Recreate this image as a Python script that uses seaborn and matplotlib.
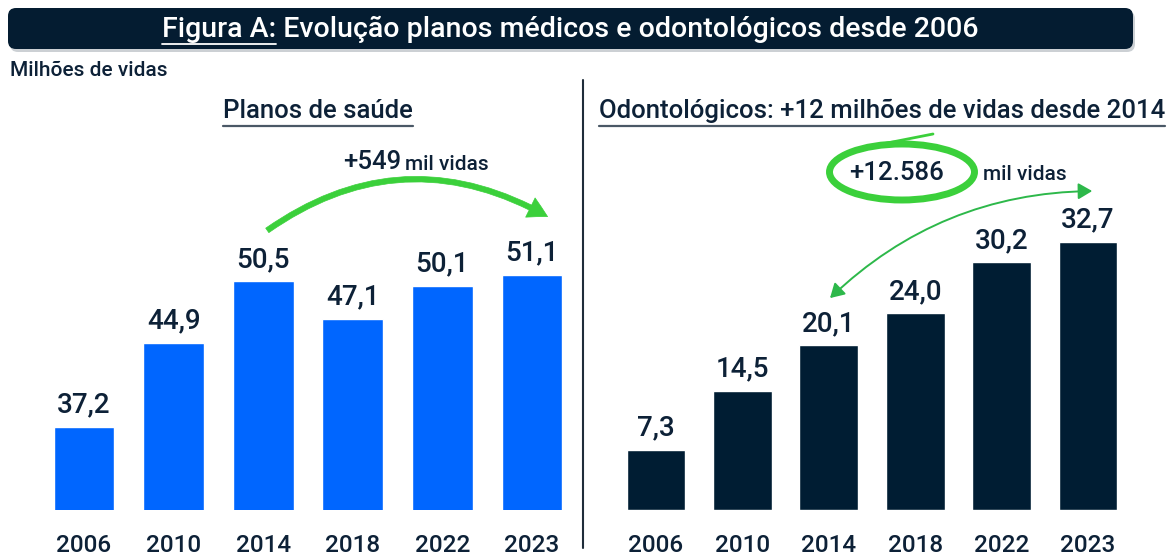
import matplotlib
matplotlib.use("Agg")
import matplotlib.pyplot as plt
import seaborn as sns
import pandas as pd
from matplotlib.patches import FancyBboxPatch, FancyArrowPatch, Ellipse
from matplotlib.lines import Line2D

# ---- data ----
years = ["2006", "2010", "2014", "2018", "2022", "2023"]
saude = [37.2, 44.9, 50.5, 47.1, 50.1, 51.1]
odonto = [7.3, 14.5, 20.1, 24.0, 30.2, 32.7]

title_a = "Figura A:"
title_b = " Evolução planos médicos e odontológicos desde 2006"
unit_label = "Milhões de vidas"
left_title = "Planos de saúde"
right_title = "Odontológicos: +12 milhões de vidas desde 2014"
left_delta = "+549"
right_delta = "+12.586"
delta_unit = "mil vidas"

BLUE = "#0066FF"
NAVY = "#001D33"
TXT = "#0D2137"
GREEN = "#3BD03B"

sns.set_theme(style="white")
plt.rcParams["font.family"] = ["Roboto", "DejaVu Sans"]
plt.rcParams["font.weight"] = "medium"

W, H = 1172, 557
fig = plt.figure(figsize=(W / 100, H / 100), dpi=100)

def fx(px):
    return px / W

def fy(py):
    return 1 - py / H

base_y = 510
top_y = 110

axL = fig.add_axes([fx(39.2), fy(base_y), fx(537.6), (base_y - top_y) / H])
axR = fig.add_axes([fx(612.8), fy(base_y), fx(518.4), (base_y - top_y) / H])

dfL = pd.DataFrame({"ano": years, "vidas": saude})
dfR = pd.DataFrame({"ano": years, "vidas": odonto})

sns.barplot(data=dfL, x="ano", y="vidas", ax=axL, color=BLUE, width=0.68,
            saturation=1, errorbar=None)
sns.barplot(data=dfR, x="ano", y="vidas", ax=axR, color=NAVY, width=0.68,
            saturation=1, errorbar=None)

axL.set_ylim(29.6, 29.6 + (base_y - top_y) / 10.94)
axR.set_ylim(0, (base_y - top_y) / 8.2)

for ax, vals in ((axL, saude), (axR, odonto)):
    ax.bar_label(ax.containers[0], labels=[f"{v:.1f}".replace(".", ",") for v in vals],
                 padding=6, fontsize=20, color=TXT)
    ax.set_xlabel("")
    ax.set_ylabel("")
    ax.set_yticks([])
    ax.tick_params(axis="x", length=0, pad=17, labelsize=17.5, labelcolor=TXT)
    for s in ax.spines.values():
        s.set_visible(False)
    ax.set_facecolor("none")
    ax.set_xlim(-0.5, 5.5)

# ---- overlay in pixel coordinates ----
ov = fig.add_axes([0, 0, 1, 1])
ov.set_xlim(0, W)
ov.set_ylim(H, 0)
ov.axis("off")
ov.set_facecolor("none")

# banner with soft shadow
ov.add_patch(FancyBboxPatch((10, 11), 1125, 41, boxstyle="round,pad=0,rounding_size=8",
                            fc="#9aa3ab", ec="none", alpha=0.5, zorder=1))
ov.add_patch(FancyBboxPatch((8, 8), 1125, 41, boxstyle="round,pad=0,rounding_size=8",
                            fc="#041C31", ec="none", zorder=2))

tfull = ov.text(570, 29, title_a + title_b, color="white", fontsize=20.5,
                ha="center", va="center", zorder=3)
fig.canvas.draw()
r = fig.canvas.get_renderer()
bb_full = tfull.get_window_extent(r)
tpart = ov.text(0, 0, title_a, fontsize=20.5, ha="left", va="center", alpha=0)
bb_part = tpart.get_window_extent(r)
x0 = bb_full.x0
ov.add_line(Line2D([x0, x0 + bb_part.width], [44, 44], color="white", lw=1.3, zorder=4))

ov.text(10, 70, unit_label, fontsize=15, color=TXT, ha="left", va="center")

# panel titles with underline
tl = ov.text(318, 111, left_title, fontsize=18.5, color=TXT, ha="center", va="center")
tr = ov.text(882, 111, right_title, fontsize=18.5, color=TXT, ha="center", va="center")
fig.canvas.draw()
for t in (tl, tr):
    b = t.get_window_extent(r)
    ov.add_line(Line2D([b.x0, b.x1], [126, 126], color="#4a5866", lw=1.6))

# separator
ov.add_line(Line2D([583, 583], [80, 548], color="#1f2d3a", lw=1.5))

# left annotation
ov.add_patch(FancyArrowPatch((265, 232), (550, 218), connectionstyle="arc3,rad=-0.32",
                             arrowstyle="simple,head_length=1.0,head_width=1.1,tail_width=0.28",
                             mutation_scale=14, fc=GREEN, ec=GREEN, lw=0.5, zorder=5))
ov.text(401, 162, left_delta, fontsize=18.5, color=TXT, ha="right", va="center")
ov.text(405, 164, delta_unit, fontsize=15, color=TXT, ha="left", va="center")

# right annotation
ov.add_patch(FancyArrowPatch((828, 300), (1095, 191), connectionstyle="arc3,rad=-0.2",
                             arrowstyle="<|-|>,head_length=0.6,head_width=0.35",
                             mutation_scale=14, fc="#2DB84A", ec="#2DB84A", lw=1.4, zorder=5))
ov.add_patch(Ellipse((902, 172), 145, 56, fc="none", ec=GREEN, lw=5, zorder=5))
ov.add_line(Line2D([867, 933], [147, 134], color=GREEN, lw=2, zorder=5))
ov.text(897, 173, right_delta, fontsize=18.5, color=TXT, ha="center", va="center", zorder=6)
ov.text(983, 175, delta_unit, fontsize=15, color=TXT, ha="left", va="center")

fig.savefig("out.png", dpi=100)
